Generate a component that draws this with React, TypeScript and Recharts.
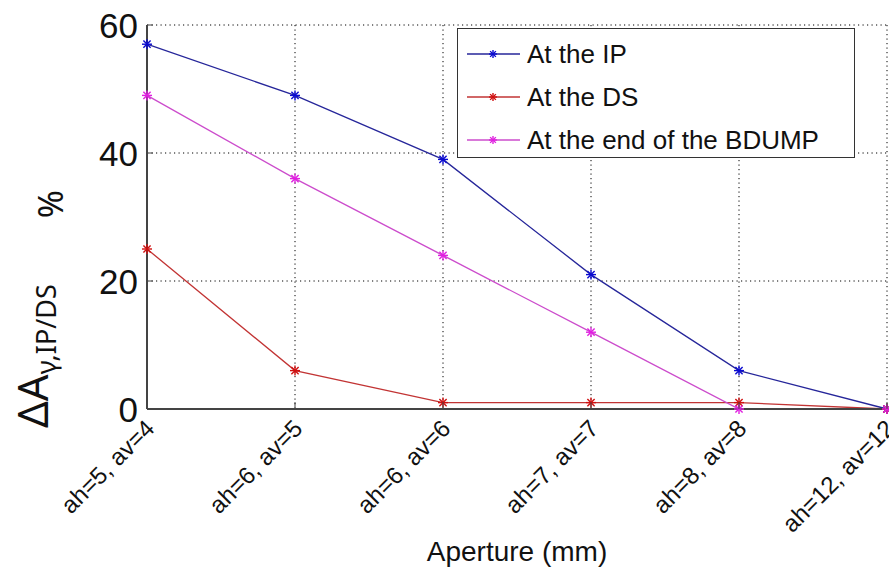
import React from 'react';
import { LineChart, Line, XAxis, YAxis, CartesianGrid, Legend } from 'recharts';

const apertures = ['ah=5, av=4', 'ah=6, av=5', 'ah=6, av=6', 'ah=7, av=7', 'ah=8, av=8', 'ah=12, av=12'];
const atIp = [57, 49, 39, 21, 6, 0];
const atDs = [25, 6, 1, 1, 1, 0];
const atBdump = [49, 36, 24, 12, 0, 0];
const yTicks = [0, 20, 40, 60];

const FONT = '"Liberation Sans", Arial, sans-serif';

const series = [
  { key: 'ip', name: 'At the IP', line: '#26269a', marker: '#0a0ad0' },
  { key: 'ds', name: 'At the DS', line: '#c23434', marker: '#d01010' },
  { key: 'bdump', name: 'At the end of the BDUMP', line: '#cc4ccc', marker: '#e020e0' },
];

const data = apertures.map((a, i) => ({
  aperture: a,
  ip: atIp[i],
  ds: atDs[i],
  bdump: atBdump[i],
}));

// asterisk marker like matlab's '*'
const Star = ({ cx, cy, color, r = 5 }: any) => {
  const d = r * 0.72;
  return (
    <g stroke={color} strokeWidth={1.4}>
      <line x1={cx - r} y1={cy} x2={cx + r} y2={cy} />
      <line x1={cx} y1={cy - r} x2={cx} y2={cy + r} />
      <line x1={cx - d} y1={cy - d} x2={cx + d} y2={cy + d} />
      <line x1={cx - d} y1={cy + d} x2={cx + d} y2={cy - d} />
    </g>
  );
};

const makeDot = (color: string) => (props: any) => (
  <Star key={`${color}-${props.index}`} cx={props.cx} cy={props.cy} color={color} />
);

const XTick = ({ x, y, payload }: any) => (
  <g>
    <line x1={x} x2={x} y1={y} y2={y - 7} stroke="#444" strokeWidth={1} />
    <text
      x={x + 9}
      y={y + 21}
      transform={`rotate(-45, ${x + 9}, ${y + 21})`}
      textAnchor="end"
      fontFamily={FONT}
      fontSize={24}
      fill="#111"
    >
      {payload.value}
    </text>
  </g>
);

const YTick = ({ x, y, payload }: any) => (
  <g>
    <line x1={x} x2={x + 6} y1={y} y2={y} stroke="#444" strokeWidth={1} />
    <text x={x - 9} y={y + 13} textAnchor="end" fontFamily={FONT} fontSize={35} fill="#111">
      {payload.value}
    </text>
  </g>
);

const YTitle = () => (
  <g fill="#111">
    <text transform="rotate(-90, 48, 428)" x={48} y={428} fontFamily='"Noto Sans", sans-serif' fontSize={42}>
      ΔA
      <tspan fontSize={27} dy={8}>γ,IP/DS</tspan>
    </text>
    <text transform="rotate(-90, 63, 204)" x={63} y={204} textAnchor="middle" fontFamily='"Noto Sans", sans-serif' fontSize={34}>
      %
    </text>
  </g>
);

const XTitle = ({ viewBox }: any) => (
  <text
    x={viewBox.x + viewBox.width / 2}
    y={561}
    textAnchor="middle"
    fontFamily={FONT}
    fontSize={28}
    fill="#111"
  >
    Aperture (mm)
  </text>
);

const LegendBox = ({ payload }: any) => {
  const items = series.map((s) => ({ s, p: (payload || []).find((p: any) => p.value === s.name) }));
  return (
    <div
      style={{
        width: 398,
        height: 130,
        boxSizing: 'border-box',
        border: '1.5px solid #333',
        background: '#fff',
        paddingTop: 3,
        fontFamily: FONT,
        fontSize: 26,
        color: '#111',
      }}
    >
      {items.map(({ s, p }) => (
        <div key={s.key} style={{ display: 'flex', alignItems: 'center', height: 43 }}>
          <svg width={60} height={20} style={{ marginLeft: 9, flex: 'none' }}>
            <line x1={0} x2={53} y1={10} y2={10} stroke={p ? p.color : s.line} strokeWidth={1.5} />
            <Star cx={26} cy={10} color={s.marker} r={4} />
          </svg>
          <span style={{ whiteSpace: 'nowrap', lineHeight: '30px' }}>{s.name}</span>
        </div>
      ))}
    </div>
  );
};

export default function App() {
  return (
    <div style={{ position: 'absolute', left: 0, top: 0, width: 889, height: 569, background: '#fff' }}>
      <LineChart width={889} height={569} data={data} margin={{ top: 25, right: 2, bottom: 0, left: 0 }}>
        <CartesianGrid stroke="#000" strokeDasharray="1.2 3.3" strokeWidth={1} />
        <XAxis
          dataKey="aperture"
          height={160}
          tickSize={0}
          tickMargin={0}
          tickLine={false}
          axisLine={{ stroke: '#444', strokeWidth: 2 }}
          tick={<XTick />}
          interval={0}
          label={{ content: <XTitle /> } as any}
        />
        <YAxis
          width={147}
          domain={[0, 60]}
          ticks={yTicks}
          tickSize={0}
          tickMargin={0}
          tickLine={false}
          axisLine={{ stroke: '#444', strokeWidth: 2 }}
          tick={<YTick />}
          label={{ content: <YTitle /> } as any}
        />
        <Legend
          layout="vertical"
          align="center"
          verticalAlign="middle"
          content={<LegendBox />}
          wrapperStyle={{ position: 'absolute', left: 457, top: 28, width: 398, height: 130 }}
        />
        {series.map((s) => (
          <Line
            key={s.key}
            dataKey={s.key}
            name={s.name}
            type="linear"
            stroke={s.line}
            strokeWidth={1.3}
            dot={makeDot(s.marker)}
            activeDot={false}
            isAnimationActive={false}
          />
        ))}
      </LineChart>
    </div>
  );
}
